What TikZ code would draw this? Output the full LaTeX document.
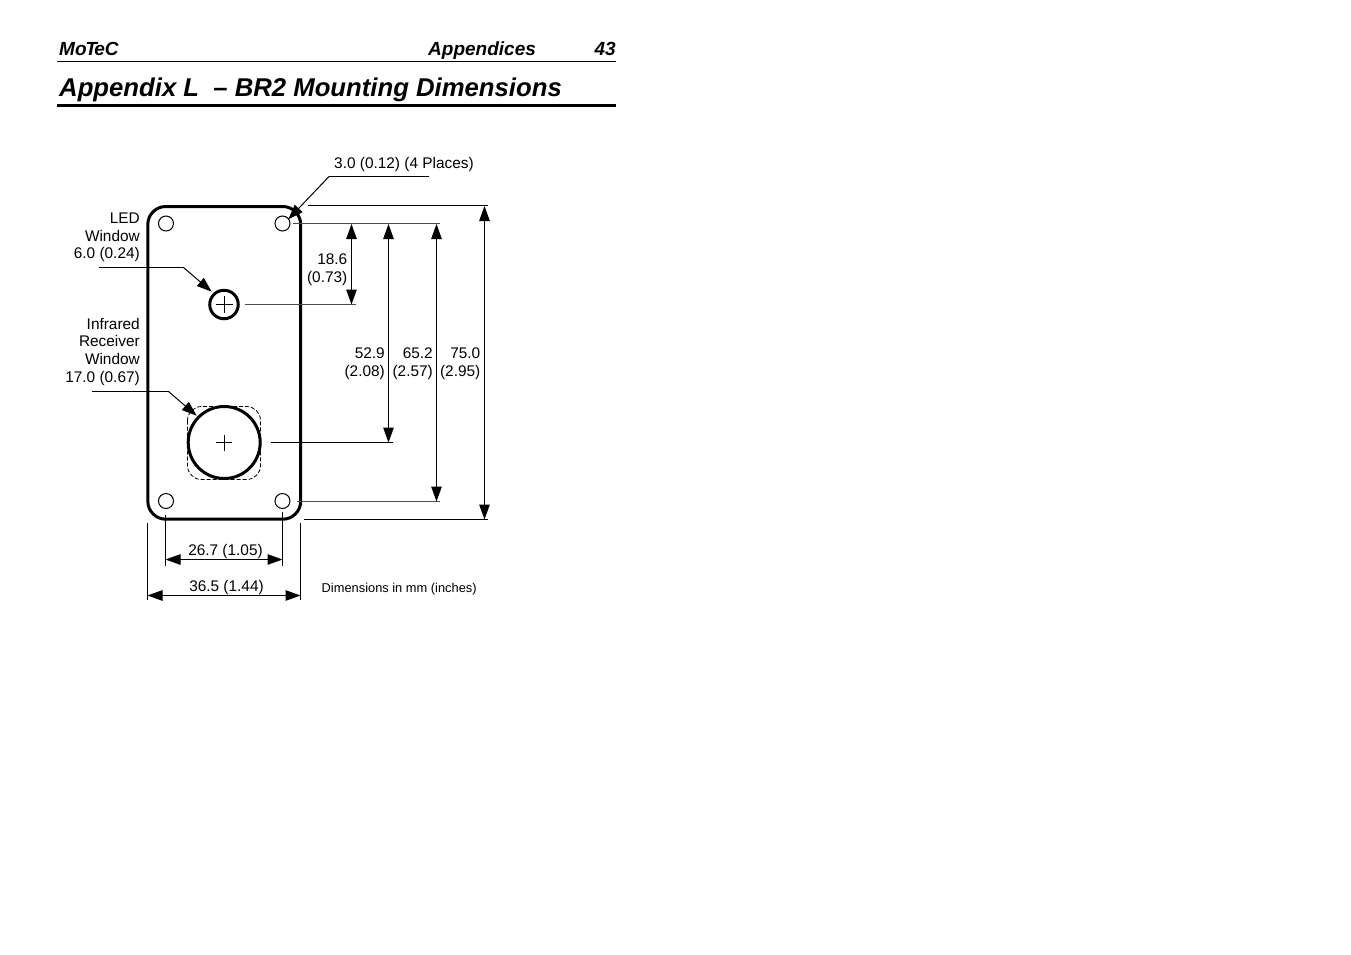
\documentclass[tikz,border=0pt]{standalone}
\usepackage{fontspec}
\setmainfont{Liberation Sans}
\usetikzlibrary{arrows.meta}
\tikzset{
  thin line/.style={line width=1pt,black},
  grey line/.style={line width=1pt,black!70},
  heavy/.style={line width=3pt,black},
  dim/.style={thin line,{Triangle[length=15pt,width=10.5pt]}-{Triangle[length=15pt,width=10.5pt]}},
  leader/.style={thin line,-{Triangle[length=15pt,width=10.5pt]}},
  lbl/.style={inner sep=0pt,font=\fontsize{15.4}{17.6}\selectfont,align=right,anchor=base east},
  lblc/.style={inner sep=0pt,font=\fontsize{15.4}{17.6}\selectfont,anchor=base},
  small/.style={inner sep=0pt,font=\fontsize{12.85}{15}\selectfont,anchor=base west},
  head/.style={inner sep=0pt,font=\fontsize{19}{22}\selectfont\bfseries\itshape},
  hole/.style={circle,draw,line width=1pt,minimum size=15pt,inner sep=0pt,fill=white},
}
\begin{document}
\begin{tikzpicture}[x=1pt,y=-1pt]
\useasboundingbox (0,0) rectangle (1351,954);
% header
\node[head,anchor=base west] (motec) at (59,55) {Mo\kern-1.4pt T\kern-2.6pt eC};
\node[head,anchor=base west] (appx) at (428,55) {Appendices};
\node[head,anchor=base east] (pg) at (616,55) {43};
\coordinate (r1a) at (57,61.5); \coordinate (r1b) at (616,61.5);
\draw[line width=1pt] (r1a) -- (r1b);
\node[inner sep=0pt,anchor=base west,font=\fontsize{25.7}{30}\selectfont\bfseries\itshape] (title) at (59,96.5) {Appendix L \ -- BR2 Mounting Dimensions};
\coordinate (r2a) at (57,105.5); \coordinate (r2b) at (616,105.5);
\draw[line width=3pt] (r2a) -- (r2b);

% body
\draw[heavy,rounded corners=18pt] (147.8,206.5) rectangle (300.7,519.2);
\node[hole] (h1) at (166,223.5) {};
\node[hole] (h2) at (282.5,223.5) {};
\node[hole] (h3) at (166,501) {};
\node[hole] (h4) at (282.5,501) {};
% LED
\node[circle,draw,line width=3pt,minimum size=28.5pt,inner sep=0pt] (led) at (224,304.5) {};
\draw[line width=0.9pt] (215.5,304.5) -- (232.5,304.5) (224,296) -- (224,313);
% IR
\draw[line width=0.8pt,dash pattern=on 4pt off 2pt,rounded corners=14pt] (187.5,406.5) rectangle (260.5,479.5);
\node[circle,draw,line width=3pt,minimum size=72pt,inner sep=0pt,fill=white] (ir) at (224.2,442.5) {};
\draw[line width=0.9pt] (216,442.5) -- (232,442.5) (224,434.5) -- (224,450.5);

% leaders
\coordinate (a0) at (429,176.5); \coordinate (a1) at (329,176.5); \coordinate (a2) at (288.3,219.3);
\draw[thin line] (a0) -- (a1);
\draw[leader] (a1) -- (a2);
\coordinate (b0) at (99,267.5); \coordinate (b1) at (183.5,267.5); \coordinate (b2) at (211.7,291.7);
\draw[thin line] (b0) -- (b1);
\draw[leader] (b1) -- (b2);
\coordinate (c0) at (92,391.5); \coordinate (c1) at (168.5,391.5); \coordinate (c2) at (196.7,415.7);
\draw[thin line] (c0) -- (c1);
\draw[leader] (c1) -- (c2);

% extension lines
\coordinate (e1a) at (293,223.5); \coordinate (e1b) at (440,223.5);
\draw[grey line] (e1a) -- (e1b);
\coordinate (e2a) at (245,304.5); \coordinate (e2b) at (356,304.5);
\draw[grey line] (e2a) -- (e2b);
\coordinate (e3a) at (271,442.5); \coordinate (e3b) at (393,442.5);
\draw[thin line] (e3a) -- (e3b);
\coordinate (e4a) at (297,501.5); \coordinate (e4b) at (440,501.5);
\draw[grey line] (e4a) -- (e4b);
\coordinate (e5a) at (308,205.5); \coordinate (e5b) at (488,205.5);
\draw[thin line] (e5a) -- (e5b);
\coordinate (e6a) at (304,519.5); \coordinate (e6b) at (488,519.5);
\draw[thin line] (e6a) -- (e6b);

% vertical dimensions
\coordinate (d1a) at (351.5,224); \coordinate (d1b) at (351.5,304.5);
\draw[dim] (d1a) -- (d1b);
\coordinate (d2a) at (388.5,224); \coordinate (d2b) at (388.5,442.5);
\draw[dim] (d2a) -- (d2b);
\coordinate (d3a) at (436.5,224); \coordinate (d3b) at (436.5,501.5);
\draw[dim] (d3a) -- (d3b);
\coordinate (d4a) at (484.5,206); \coordinate (d4b) at (484.5,519.5);
\draw[dim] (d4a) -- (d4b);

% horizontal dimensions
\coordinate (f1a) at (165.5,515); \coordinate (f1b) at (165.5,566);
\draw[thin line] (f1a) -- (f1b);
\coordinate (f2a) at (282.5,511.5); \coordinate (f2b) at (282.5,566);
\draw[thin line] (f2a) -- (f2b);
\coordinate (f3a) at (147.5,522.5); \coordinate (f3b) at (147.5,600);
\draw[thin line] (f3a) -- (f3b);
\coordinate (f4a) at (300.5,522.5); \coordinate (f4b) at (300.5,600);
\draw[thin line] (f4a) -- (f4b);
\coordinate (g1a) at (165.5,559.5); \coordinate (g1b) at (282.5,559.5);
\draw[dim] (g1a) -- (g1b);
\coordinate (g2a) at (147.5,595.5); \coordinate (g2b) at (300.5,595.5);
\draw[dim] (g2a) -- (g2b);

% labels
\node[lbl,anchor=base west] (places) at (334,168) {3.0 (0.12) (4 Places)};
\node[lbl] (l1) at (140,223) {LED};
\node[lbl] (l2) at (140,241) {Window};
\node[lbl] (l3) at (140,258) {6.0 (0.24)};
\node[lbl] (i1) at (140,329) {Infrared};
\node[lbl] (i2) at (140,346) {Receiver};
\node[lbl] (i3) at (140,364) {Window};
\node[lbl] (i4) at (140,382) {17.0 (0.67)};
\node[lbl] (t1) at (347.5,264) {18.6};
\node[lbl] (t2) at (347.5,282) {(0.73)};
\node[lbl] (t3) at (385,358) {52.9};
\node[lbl] (t4) at (385,376) {(2.08)};
\node[lbl] (t5) at (433,358) {65.2};
\node[lbl] (t6) at (433,376) {(2.57)};
\node[lbl] (t7) at (480.5,358) {75.0};
\node[lbl] (t8) at (480.5,376) {(2.95)};
\node[lblc] (w1) at (225.5,555) {26.7 (1.05)};
\node[lblc] (w2) at (226.5,591) {36.5 (1.44)};
\node[small] (note) at (321.5,592) {Dimensions in mm (inches)};
\end{tikzpicture}
\end{document}
